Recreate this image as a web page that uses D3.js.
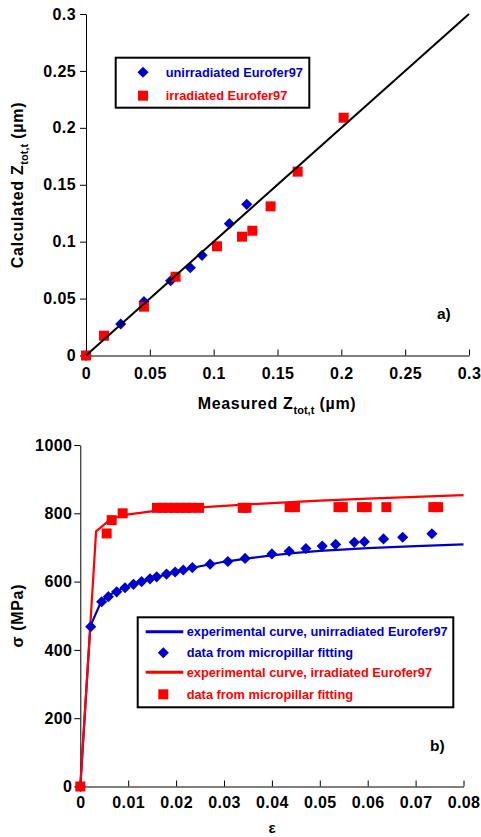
<!DOCTYPE html>
<html>
<head>
<meta charset="utf-8">
<script src="https://cdn.jsdelivr.net/npm/d3@7"></script>
<style>
  body { margin: 0; background: #fff; }
  svg { display: block; font-family: "Liberation Sans", Arial, sans-serif; font-weight: bold; }
  .axis path, .axis line { stroke: #000; stroke-width: 1; }
  .axis text { font-size: 16px; letter-spacing: 0.4px; font-weight: bold; fill: #000; font-family: "Liberation Sans", Arial, sans-serif; }
  .title { font-size: 16px; letter-spacing: 0.7px; }
</style>
</head>
<body>
<svg id="chart" width="481" height="837"></svg>
<script>
// ---- panel a) : measured vs calculated Z_tot,t (µm)
const unirrMeasured = [0, 0.0272, 0.0454, 0.0663, 0.0817, 0.0909, 0.1123, 0.1259];
const unirrCalc     = [0, 0.0277, 0.0473, 0.0657, 0.0771, 0.0880, 0.1158, 0.1328];
const irrMeasured   = [0, 0.0141, 0.0454, 0.0702, 0.1026, 0.1222, 0.1303, 0.1446, 0.1658, 0.2018];
const irrCalc       = [0, 0.0174, 0.0429, 0.0692, 0.0959, 0.1044, 0.1096, 0.1310, 0.1615, 0.2089];
const ticksA = [0, 0.05, 0.1, 0.15, 0.2, 0.25, 0.3];

// ---- panel b) : stress-strain
const curveUnirrEps = [0, 0.0021, 0.0043, 0.006, 0.008, 0.01, 0.0125, 0.015, 0.02, 0.025, 0.03, 0.035, 0.04, 0.045, 0.05, 0.06, 0.07, 0.08];
const curveUnirrSig = [0, 470, 540, 560, 575, 587, 600, 610, 628, 645, 658, 668, 677, 684, 690, 698, 704, 709];
const curveIrrEps   = [0, 0.0033, 0.0065, 0.01, 0.0125, 0.016, 0.02, 0.03, 0.04, 0.05, 0.06, 0.07, 0.08];
const curveIrrSig   = [0, 747, 785, 797, 801, 808, 813, 822, 830, 837, 843, 848, 853];
const pillarUnirrEps = [0, 0.00217, 0.00446, 0.00585, 0.0076, 0.00933, 0.0111, 0.0128, 0.01455, 0.01595, 0.018, 0.0198, 0.0215, 0.0234, 0.0271, 0.0308, 0.0344, 0.040, 0.0436, 0.0471, 0.0505, 0.0533, 0.0572, 0.0593, 0.0633, 0.0673, 0.0734];
const pillarUnirrSig = [0, 468, 541, 556, 570, 582, 592, 600, 608, 614, 622, 628, 634, 641, 651, 659, 668, 681, 689, 697, 704, 709, 715, 717, 725, 730, 740];
const pillarIrrEps = [0, 0.0055, 0.00655, 0.00885, 0.0160, 0.0172, 0.0184, 0.0196, 0.0208, 0.0220, 0.0232, 0.0248, 0.0339, 0.0347, 0.0437, 0.0448, 0.0539, 0.0548, 0.0588, 0.0598, 0.0639, 0.0737, 0.0747];
const pillarIrrSig = [0, 741, 780, 800, 816, 816, 816, 816, 816, 816, 816, 816, 816, 816, 818, 818, 818, 818, 818, 818, 818, 818, 818];
const ticksBx = [0, 0.01, 0.02, 0.03, 0.04, 0.05, 0.06, 0.07, 0.08];
const ticksBy = [0, 200, 400, 600, 800, 1000];

const BLUE = "#0000cc", RED = "#ff0000";
const svg = d3.select("#chart");

const zip = (a, b) => a.map((v, i) => [v, b[i]]);
const diamond = d3.symbol().type(d3.symbolSquare).size(62);

function drawDiamonds(g, pts, x, y) {
  g.selectAll(null).data(pts).join("path")
    .attr("d", diamond)
    .attr("transform", d => `translate(${x(d[0])},${y(d[1])}) rotate(45)`)
    .attr("fill", BLUE);
}
function drawSquares(g, pts, x, y) {
  g.selectAll(null).data(pts).join("rect")
    .attr("x", d => x(d[0]) - 5).attr("y", d => y(d[1]) - 5)
    .attr("width", 10).attr("height", 10)
    .attr("fill", RED);
}
function subLabel(t, main, sub, tail) {
  t.append("tspan").text(main);
  t.append("tspan").attr("dy", 5).style("font-size", "11px").style("letter-spacing", "0px").text(sub);
  t.append("tspan").attr("dy", -5).text(tail);
}

// ================= panel a)
{
  const x = d3.scaleLinear().domain([0, 0.3]).range([86, 469]);
  const y = d3.scaleLinear().domain([0, 0.3]).range([355.5, 14]);
  const g = svg.append("g");

  g.append("g").attr("class", "axis").attr("transform", "translate(0,355.5)")
    .call(d3.axisBottom(x).tickValues(ticksA).tickFormat(d => String(d)).tickSize(-6).tickSizeOuter(0).tickPadding(12));
  g.append("g").attr("class", "axis").attr("transform", "translate(86,0)")
    .call(d3.axisLeft(y).tickValues(ticksA).tickFormat(d => String(d)).tickSize(6).tickSizeOuter(0).tickPadding(4));

  drawDiamonds(g, zip(unirrMeasured, unirrCalc), x, y);
  drawSquares(g, zip(irrMeasured, irrCalc), x, y);

  g.append("line")
    .attr("x1", x(0)).attr("y1", y(0)).attr("x2", x(0.3)).attr("y2", y(0.3))
    .attr("stroke", "#000").attr("stroke-width", 2);

  const xt = g.append("text").attr("class", "title").attr("x", 277).attr("y", 409).attr("text-anchor", "middle");
  subLabel(xt, "Measured Z", "tot,t", " (\u00b5m)");
  const yt = g.append("text").attr("class", "title").attr("transform", "translate(23,185) rotate(-90)").attr("text-anchor", "middle");
  subLabel(yt, "Calculated Z", "tot,t", " (\u00b5m)");

  g.append("text").attr("x", 437).attr("y", 319).style("font-size", "15.5px").text("a)");

  // legend
  const lg = g.append("g");
  lg.append("rect").attr("x", 115.7).attr("y", 57.7).attr("width", 193.6).attr("height", 50)
    .attr("fill", "#fff").attr("stroke", "#000").attr("stroke-width", 2);
  lg.append("path").attr("d", diamond).attr("transform", "translate(143,72.3) rotate(45)").attr("fill", BLUE);
  lg.append("rect").attr("x", 138).attr("y", 90.7).attr("width", 10).attr("height", 10).attr("fill", RED);
  lg.append("text").attr("x", 165.7).attr("y", 76.6).attr("fill", BLUE).style("font-size", "12.8px").text("unirradiated Eurofer97");
  lg.append("text").attr("x", 165.7).attr("y", 100).attr("fill", RED).style("font-size", "12.8px").text("irradiated Eurofer97");
}

// ================= panel b)
{
  const x = d3.scaleLinear().domain([0, 0.08]).range([80.3, 463.5]);
  const y = d3.scaleLinear().domain([0, 1000]).range([786.5, 445]);
  const g = svg.append("g");

  g.append("g").attr("class", "axis").attr("transform", "translate(0,786.5)")
    .call(d3.axisBottom(x).tickValues(ticksBx).tickFormat(d => String(d)).tickSize(-6).tickSizeOuter(0).tickPadding(10));
  g.append("g").attr("class", "axis").attr("transform", "translate(80.3,0)")
    .call(d3.axisLeft(y).tickValues(ticksBy).tickFormat(d => String(d)).tickSize(6).tickSizeOuter(0).tickPadding(2));

  const line = d3.line().x(d => x(d[0])).y(d => y(d[1]));
  g.append("path").datum(zip(curveUnirrEps, curveUnirrSig)).attr("d", line)
    .attr("fill", "none").attr("stroke", BLUE).attr("stroke-width", 2.2);
  g.append("path").datum(zip(curveIrrEps, curveIrrSig)).attr("d", line)
    .attr("fill", "none").attr("stroke", RED).attr("stroke-width", 2.2);

  drawDiamonds(g, zip(pillarUnirrEps, pillarUnirrSig), x, y);
  drawSquares(g, zip(pillarIrrEps, pillarIrrSig), x, y);

  g.append("text").attr("x", 272).attr("y", 833).attr("text-anchor", "middle").style("font-size", "15px").text("\u03b5");
  g.append("text").attr("class", "title").attr("transform", "translate(23,615.7) rotate(-90)").attr("text-anchor", "middle").text("\u03c3 (MPa)");
  g.append("text").attr("x", 430).attr("y", 751).style("font-size", "15.5px").text("b)");

  // legend
  const lg = g.append("g");
  lg.append("rect").attr("x", 137.7).attr("y", 617.3).attr("width", 315.6).attr("height", 90)
    .attr("fill", "#fff").attr("stroke", "#000").attr("stroke-width", 2);
  const rows = [631.7, 652.7, 672.3, 694.3];
  lg.append("line").attr("x1", 145.7).attr("x2", 183.3).attr("y1", rows[0]).attr("y2", rows[0]).attr("stroke", BLUE).attr("stroke-width", 3);
  lg.append("path").attr("d", diamond).attr("transform", `translate(163.3,${rows[1]}) rotate(45)`).attr("fill", BLUE);
  lg.append("line").attr("x1", 145.7).attr("x2", 183.3).attr("y1", rows[2]).attr("y2", rows[2]).attr("stroke", RED).attr("stroke-width", 3);
  lg.append("rect").attr("x", 158.3).attr("y", rows[3] - 5).attr("width", 10).attr("height", 10).attr("fill", RED);
  const labels = ["experimental curve, unirradiated Eurofer97", "data from micropillar fitting",
                  "experimental curve, irradiated Eurofer97", "data from micropillar fitting"];
  const cols = [BLUE, BLUE, RED, RED];
  labels.forEach((t, i) => {
    lg.append("text").attr("x", 186.7).attr("y", rows[i] + 4.4).attr("fill", cols[i]).style("font-size", "12.8px").text(t);
  });
}
</script>
</body>
</html>
